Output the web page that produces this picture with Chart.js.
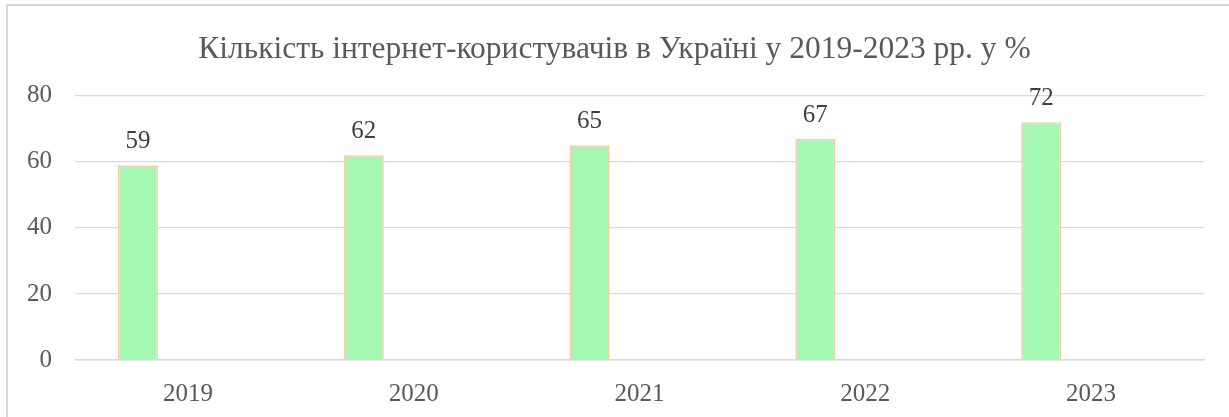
<!DOCTYPE html>
<html>
<head>
<meta charset="utf-8">
<script src="https://cdn.jsdelivr.net/npm/chart.js@4"></script>
<style>
    body { margin: 0; background: #fff; }
    #frame {
        position: absolute; left: 6px; top: 4px; width: 1240px; height: 430px;
        border: 2px solid #d9d9d9; box-sizing: border-box;
    }
    #wrap { position: absolute; left: 0; top: 0; width: 1229px; height: 417px; }
</style>
</head>
<body>
<div id="frame"></div>
<div id="wrap"><canvas id="chart"></canvas></div>
<script>
const years = ["2019", "2020", "2021", "2022", "2023"];
const users = [59, 62, 65, 67, 72];
const empty = [null, null, null, null, null];
const yTicks = [0, 20, 40, 60, 80];

const font = "'Liberation Serif', 'Times New Roman', serif";

// value labels above the first series
const barLabels = {
    id: "barLabels",
    afterDatasetsDraw(chart) {
        const ctx = chart.ctx;
        const meta = chart.getDatasetMeta(0);
        ctx.save();
        ctx.font = "25px " + font;
        ctx.fillStyle = "#404040";
        ctx.textAlign = "center";
        ctx.textBaseline = "bottom";
        meta.data.forEach((bar, i) => {
            ctx.fillText(users[i], bar.x, bar.y - 11);
        });
        ctx.restore();
    }
};

new Chart(document.getElementById("chart"), {
    type: "bar",
    data: {
        labels: years,
        datasets: [{
            label: "Користувачі",
            data: users,
            backgroundColor: "#a5f7b4",
            borderColor: "#f9caa0",
            borderWidth: 1.5,
            categoryPercentage: 0.885,
            barPercentage: 0.4
        }, {
            label: "",
            data: empty,
            categoryPercentage: 0.885,
            barPercentage: 0.4
        }]
    },
    options: {
        responsive: true,
        maintainAspectRatio: false,
        animation: false,
        layout: { padding: { left: 25, right: 25, top: 8, bottom: -3 } },
        plugins: {
            legend: { display: false },
            tooltip: { enabled: false },
            title: {
                display: true,
                text: "Кількість інтернет-користувачів в Україні у 2019-2023 рр. у %",
                color: "#595959",
                font: { family: font, size: 31.5, weight: "normal" },
                padding: { top: 23, bottom: 27 }
            }
        },
        scales: {
            x: {
                grid: { display: false },
                border: { color: "#d9d9d9", width: 1.5 },
                ticks: {
                    color: "#595959",
                    font: { family: font, size: 25 },
                    padding: 11
                }
            },
            y: {
                min: 0,
                max: 80,
                afterBuildTicks: axis => { axis.ticks = yTicks.map(v => ({ value: v })); },
                afterFit: axis => { axis.width -= 21; },
                grid: { color: "#d9d9d9", lineWidth: 1.2, drawTicks: false },
                border: { display: false },
                ticks: {
                    color: "#595959",
                    font: { family: font, size: 25 },
                    padding: 23
                }
            }
        }
    },
    plugins: [barLabels]
});
</script>
</body>
</html>
